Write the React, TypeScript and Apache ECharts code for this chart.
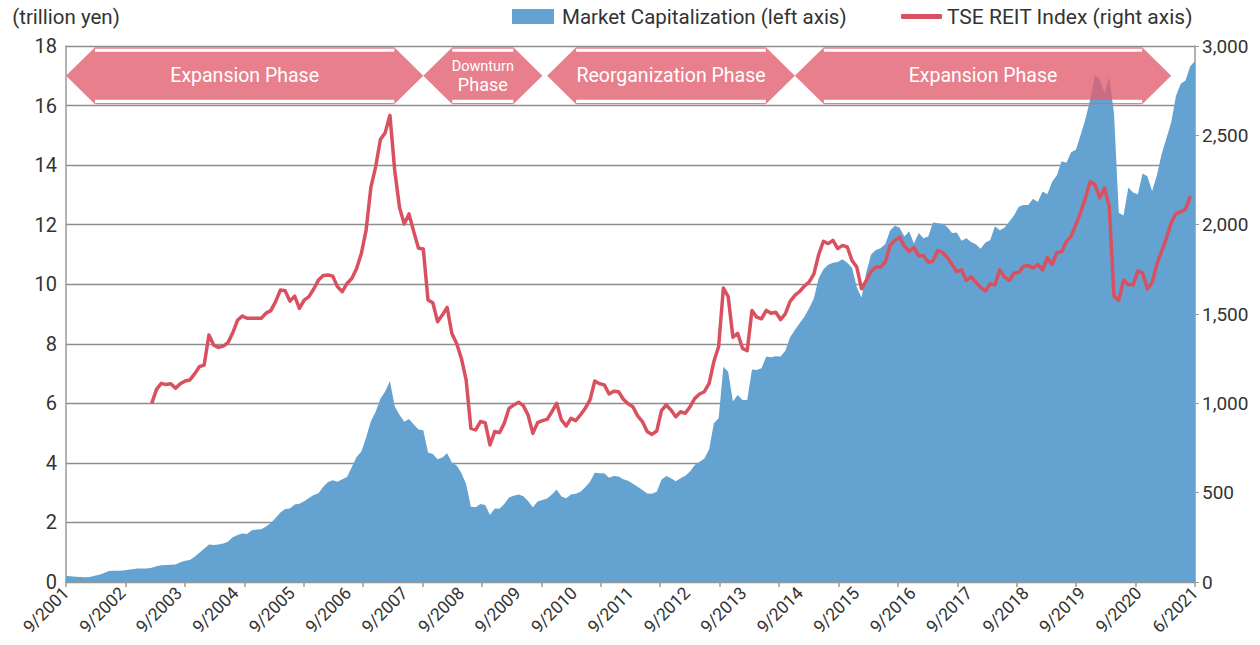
import React, { useEffect, useRef } from "react";
import * as echarts from "echarts";

// ---- data ----
const months: string[] = [];
for (let i = 0; i < 238; i++) {
  const m = ((8 + i) % 12) + 1;
  const y = 2001 + Math.floor((8 + i) / 12);
  months.push(`${m}/${y}`);
}

const tickLabels = [
  "9/2001", "9/2002", "9/2003", "9/2004", "9/2005", "9/2006", "9/2007",
  "9/2008", "9/2009", "9/2010", "9/2011", "9/2012", "9/2013", "9/2014",
  "9/2015", "9/2016", "9/2017", "9/2018", "9/2019", "9/2020", "6/2021",
];

// Market capitalization (trillion yen), monthly 9/2001 - 6/2021
const marketCap = [
  0.20, 0.19, 0.18, 0.17, 0.16, 0.17, 0.21, 0.24, 0.30, 0.37,
  0.38, 0.38, 0.39, 0.41, 0.43, 0.45, 0.45, 0.45, 0.48, 0.53,
  0.56, 0.57, 0.58, 0.59, 0.66, 0.71, 0.74, 0.85, 0.98, 1.12,
  1.26, 1.24, 1.26, 1.29, 1.35, 1.50, 1.58, 1.63, 1.61, 1.74,
  1.76, 1.77, 1.86, 1.98, 2.15, 2.33, 2.45, 2.47, 2.60, 2.63,
  2.71, 2.82, 2.92, 2.98, 3.20, 3.36, 3.42, 3.37, 3.45, 3.53,
  3.86, 4.20, 4.38, 4.85, 5.40, 5.72, 6.15, 6.40, 6.75, 5.90,
  5.62, 5.38, 5.47, 5.29, 5.12, 5.10, 4.35, 4.30, 4.12, 4.18,
  4.32, 4.01, 3.91, 3.66, 3.28, 2.53, 2.51, 2.62, 2.59, 2.25,
  2.47, 2.46, 2.62, 2.84, 2.90, 2.94, 2.88, 2.72, 2.51, 2.70,
  2.75, 2.80, 2.94, 3.11, 2.87, 2.81, 2.94, 2.96, 3.03, 3.18,
  3.37, 3.67, 3.65, 3.65, 3.50, 3.56, 3.54, 3.45, 3.40, 3.30,
  3.20, 3.09, 2.97, 2.96, 3.03, 3.43, 3.56, 3.48, 3.38, 3.48,
  3.57, 3.71, 3.93, 4.04, 4.15, 4.45, 5.33, 5.50, 7.23, 7.06,
  6.06, 6.28, 6.11, 6.11, 7.14, 7.12, 7.18, 7.57, 7.55, 7.58,
  7.57, 7.77, 8.22, 8.46, 8.69, 8.91, 9.19, 9.53, 10.2, 10.5,
  10.65, 10.72, 10.75, 10.84, 10.72, 10.55, 9.90, 9.55, 10.4, 11.0,
  11.15, 11.21, 11.35, 11.8, 11.96, 11.9, 11.6, 11.78, 11.37, 11.72,
  11.54, 11.6, 12.07, 12.05, 12.03, 11.92, 11.72, 11.74, 11.46, 11.54,
  11.42, 11.34, 11.19, 11.4, 11.48, 11.95, 11.81, 11.90, 12.10, 12.31,
  12.60, 12.66, 12.66, 12.87, 12.76, 13.11, 13.02, 13.43, 13.66, 14.13,
  14.08, 14.43, 14.52, 15.02, 15.55, 16.20, 17.02, 16.88, 16.43, 16.96,
  15.73, 12.4, 12.31, 13.25, 13.08, 13.02, 13.72, 13.63, 13.13, 13.66,
  14.37, 14.90, 15.43, 16.32, 16.73, 16.84, 17.32, 17.50,
];

// TSE REIT Index, monthly (starts 3/2003)
const reitIndex: (number | null)[] = [
  null, null, null, null, null, null, null, null, null, null,
  null, null, null, null, null, null, null, null, 1000, 1078,
  1112, 1105, 1110, 1085, 1110, 1125, 1131, 1165, 1205, 1214,
  1382, 1326, 1313, 1320, 1339, 1395, 1465, 1489, 1476, 1476,
  1476, 1476, 1505, 1519, 1569, 1634, 1630, 1572, 1600, 1531,
  1578, 1597, 1640, 1690, 1716, 1718, 1712, 1652, 1625, 1671,
  1699, 1755, 1839, 1970, 2209, 2324, 2477, 2515, 2612, 2306,
  2097, 2004, 2060, 1961, 1868, 1864, 1578, 1563, 1457, 1494,
  1537, 1391, 1335, 1251, 1130, 860, 851, 898, 892, 767,
  842, 836, 888, 972, 991, 1006, 987, 935, 832, 892,
  903, 910, 953, 1000, 907, 873, 916, 903, 935, 972,
  1019, 1125, 1110, 1103, 1052, 1068, 1065, 1023, 997, 981,
  930, 898, 842, 826, 845, 959, 991, 963, 925, 953,
  944, 981, 1028, 1052, 1065, 1112, 1234, 1318, 1645, 1598,
  1370, 1392, 1308, 1295, 1520, 1482, 1473, 1520, 1504, 1510,
  1469, 1501, 1570, 1604, 1626, 1656, 1679, 1725, 1832, 1907,
  1894, 1912, 1866, 1884, 1875, 1800, 1763, 1641, 1688, 1738,
  1763, 1763, 1791, 1884, 1912, 1931, 1880, 1850, 1871, 1826,
  1826, 1790, 1797, 1855, 1845, 1816, 1777, 1737, 1747, 1688,
  1708, 1678, 1649, 1629, 1668, 1663, 1747, 1708, 1688, 1728,
  1733, 1767, 1771, 1757, 1777, 1747, 1816, 1777, 1845, 1849,
  1905, 1935, 2000, 2070, 2150, 2240, 2225, 2150, 2205, 2100,
  1600, 1578, 1690, 1665, 1663, 1740, 1730, 1640, 1675, 1780,
  1850, 1925, 2010, 2062, 2073, 2085, 2160,
];

const phaseLines = [
  ["Expansion Phase"],
  ["Downturn", "Phase"],
  ["Reorganization Phase"],
  ["Expansion Phase"],
];
const phaseStarts = ["9/2001", "12/2007", "2/2010", "6/2014"];
const phaseEnds = ["12/2007", "1/2010", "6/2014", "1/2021"];

const SERIES_CAP = "Market Capitalization (left axis)";
const SERIES_REIT = "TSE REIT Index (right axis)";

const LABEL_FONT = "Roboto";
const TEXT_FONT = "Roboto";

export default function App() {
  const ref = useRef<HTMLDivElement>(null);

  useEffect(() => {
    if (!ref.current) return;
    const chart = echarts.init(ref.current, undefined, { renderer: "svg" });

    const phaseData = phaseStarts.map((s, k) => [
      months.indexOf(s),
      months.indexOf(phaseEnds[k]),
      k,
    ]);

    const renderPhase = (params: any, api: any) => {
      const i0 = api.value(0);
      const i1 = api.value(1);
      const k = api.value(2);
      const p0 = api.coord([i0, 17]);
      const p1 = api.coord([i1, 17]);
      const x0 = p0[0];
      const x1 = p1[0];
      const cy = p0[1];
      const hl = 29;
      const hh = 28.5;
      const bh = 24;
      const fill = "rgba(226,95,112,0.8)";
      const pts = [
        [x0, cy],
        [x0 + hl, cy - hh],
        [x0 + hl, cy - bh],
        [x1 - hl, cy - bh],
        [x1 - hl, cy - hh],
        [x1, cy],
        [x1 - hl, cy + hh],
        [x1 - hl, cy + bh],
        [x0 + hl, cy + bh],
        [x0 + hl, cy + hh],
      ];
      const cx = (x0 + x1) / 2;
      const lines = phaseLines[k];
      const children: any[] = [
        { type: "polygon", shape: { points: pts }, style: { fill } },
        {
          type: "line",
          shape: { x1: x0 + hl, y1: cy - hh + 0.7, x2: x1 - hl, y2: cy - hh + 0.7 },
          style: { stroke: fill, lineWidth: 1.4 },
        },
        {
          type: "line",
          shape: { x1: x0 + hl, y1: cy + hh - 0.7, x2: x1 - hl, y2: cy + hh - 0.7 },
          style: { stroke: fill, lineWidth: 1.4 },
        },
      ];
      if (lines.length === 1) {
        children.push({
          type: "text",
          style: {
            text: lines[0],
            x: cx,
            y: cy,
            fill: "#ffffff",
            font: `19.5px ${TEXT_FONT}`,
            align: "center",
            verticalAlign: "middle",
          },
        });
      } else {
        children.push({
          type: "text",
          style: {
            text: lines[0],
            x: cx,
            y: cy - 9.5,
            fill: "#ffffff",
            font: `14.5px ${TEXT_FONT}`,
            align: "center",
            verticalAlign: "middle",
          },
        });
        children.push({
          type: "text",
          style: {
            text: lines[1],
            x: cx,
            y: cy + 9,
            fill: "#ffffff",
            font: `18px ${TEXT_FONT}`,
            align: "center",
            verticalAlign: "middle",
          },
        });
      }
      return { type: "group", children };
    };

    const axisGray = "#9a9a9a";

    chart.setOption({
      animation: false,
      textStyle: { fontFamily: TEXT_FONT },
      grid: { left: 66, right: 65, top: 46, bottom: 63, containLabel: false },
      legend: [
        {
          data: [{ name: SERIES_CAP, icon: "rect" }],
          left: 512,
          top: 6,
          padding: 0,
          itemWidth: 42,
          itemHeight: 15,
          selectedMode: false,
          textStyle: { fontSize: 20.5, color: "#333", fontFamily: TEXT_FONT, padding: [0, 0, 0, 3] },
        },
        {
          data: [{ name: SERIES_REIT, icon: "roundRect" }],
          left: 901,
          top: 6,
          padding: 0,
          itemWidth: 41,
          itemHeight: 5,
          selectedMode: false,
          textStyle: { fontSize: 21, color: "#333", fontFamily: TEXT_FONT },
        },
      ],
      xAxis: [
        {
          type: "category",
          data: months,
          boundaryGap: false,
          axisLine: { show: true, lineStyle: { color: axisGray, width: 1.5 } },
          axisTick: { show: false },
          axisLabel: { show: false },
          splitLine: { show: false },
        },
        {
          type: "value",
          min: 0,
          max: 19,
          interval: 1,
          position: "bottom",
          axisLine: { show: false },
          axisTick: { show: true, length: 5, lineStyle: { color: axisGray, width: 1.5 } },
          axisLabel: { show: false },
          splitLine: { show: false },
        },
        {
          type: "category",
          data: tickLabels,
          boundaryGap: false,
          position: "bottom",
          axisLine: { show: false },
          axisTick: { show: false },
          axisLabel: {
            show: true,
            interval: 0,
            rotate: 45,
            margin: 8,
            fontFamily: LABEL_FONT,
            fontSize: 17.5,
            color: "#333",
          },
          splitLine: { show: false },
        },
      ],
      yAxis: [
        {
          type: "value",
          min: 0,
          max: 18,
          interval: 2,
          name: "(trillion yen)",
          nameLocation: "end",
          nameGap: 19,
          nameTextStyle: { fontSize: 20.5, color: "#333", fontFamily: TEXT_FONT, align: "center" },
          axisLine: { show: true, lineStyle: { color: axisGray, width: 1.5 } },
          axisTick: { show: false },
          axisLabel: { fontFamily: LABEL_FONT, fontSize: 20, color: "#333", margin: 9 },
          splitLine: { show: true, lineStyle: { color: "#8e8e8e", width: 1.3 } },
        },
        {
          type: "value",
          min: 0,
          max: 3000,
          interval: 500,
          position: "right",
          axisLine: { show: true, lineStyle: { color: axisGray, width: 1.5 } },
          axisTick: { show: true, length: 4, lineStyle: { color: axisGray } },
          axisLabel: {
            fontFamily: LABEL_FONT,
            fontSize: 19,
            color: "#333",
            margin: 7,
            formatter: (v: number) => v.toLocaleString("en-US"),
          },
          splitLine: { show: false },
        },
      ],
      series: [
        {
          name: SERIES_CAP,
          type: "line",
          xAxisIndex: 0,
          yAxisIndex: 0,
          data: marketCap,
          showSymbol: false,
          symbol: "none",
          lineStyle: { width: 0, color: "#64A3D1" },
          itemStyle: { color: "#64A3D1" },
          areaStyle: { color: "#64A3D1", opacity: 1 },
          z: 2,
        },
        {
          name: SERIES_REIT,
          type: "line",
          xAxisIndex: 0,
          yAxisIndex: 1,
          data: reitIndex,
          showSymbol: false,
          symbol: "none",
          connectNulls: false,
          lineStyle: { width: 3.5, color: "#D9505F", join: "round" },
          itemStyle: { color: "#D9505F" },
          z: 3,
        },
        {
          name: "phases",
          type: "custom",
          xAxisIndex: 0,
          yAxisIndex: 0,
          data: phaseData,
          encode: { x: [0, 1], y: 2 },
          renderItem: renderPhase,
          clip: false,
          silent: true,
          z: 4,
        },
      ],
    });

    return () => chart.dispose();
  }, []);

  return (
    <div
      ref={ref}
      style={{ position: "absolute", left: 0, top: 0, width: 1260, height: 645 }}
    />
  );
}
